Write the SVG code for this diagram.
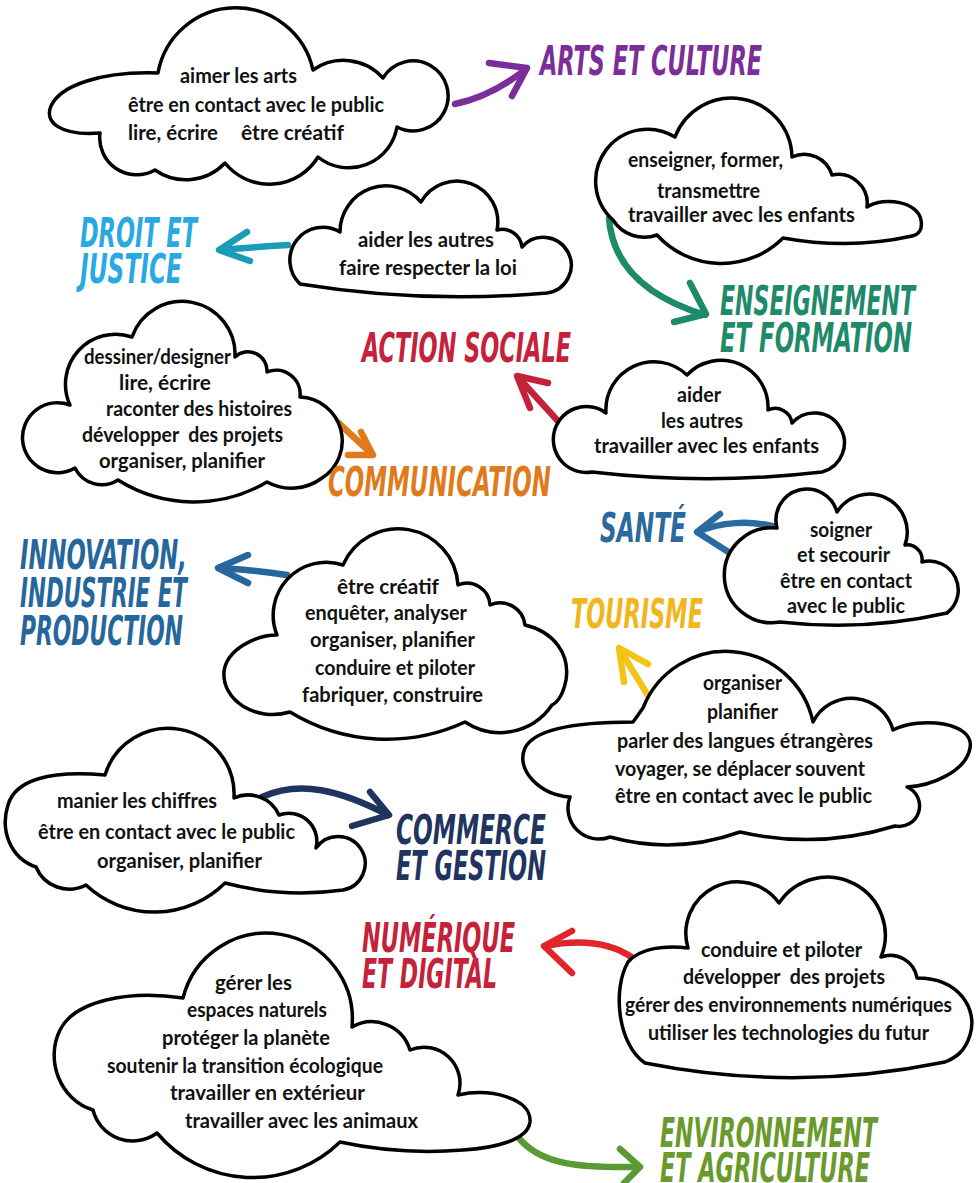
<svg xmlns="http://www.w3.org/2000/svg" width="977" height="1183" viewBox="0 0 977 1183">
<style>
.cloud{fill:#fff;stroke:#000;stroke-width:3.5;stroke-linejoin:round}
.t{font-family:Lato,"Noto Sans",sans-serif;font-weight:700;font-size:20px;fill:#111}
.h{font-family:"DejaVu Sans Condensed","DejaVu Sans",sans-serif;font-weight:700;font-style:italic;font-size:40px}
.a{fill:none;stroke-width:6.5;stroke-linecap:round;stroke-linejoin:round}
</style>
<rect width="977" height="1183" fill="#fff"/>
<g id="connectors">
<g stroke="#7B2D9A" class="a"><path d="M455,104 Q492,96 526,69"/><path d="M489,63 L527,68 L512,96"/></g>
<g stroke="#1A9CB8" class="a"><path d="M288,245 Q255,247 220,250"/><path d="M247,232 L219,250 L250,261"/></g>
<g stroke="#1F8A6A" class="a"><path d="M609,218 C612,260 640,295 705,315"/><path d="M690,283 L706,314 L674,322"/></g>
<g stroke="#C4213A" class="a"><path d="M557,420 L518,377"/><path d="M548,383 L517,376 L530,408"/></g>
<g stroke="#E07A1A" class="a"><path d="M333,418 L371,453"/><path d="M361,432 L373,455 L348,455"/></g>
<g stroke="#2A6A9F" class="a"><path d="M776,527 C750,520 720,522 698,532"/><path d="M720,514 L697,532 L730,553"/></g>
<g stroke="#25679C" class="a"><path d="M287,575 Q255,570 219,568"/><path d="M248,555 L218,568 L248,583"/></g>
<g stroke="#F2C318" class="a"><path d="M652,702 L620,650"/><path d="M648,664 L619,648 L624,682"/></g>
<g stroke="#1F3560" class="a"><path d="M262,797 C300,780 340,790 388,815"/><path d="M370,792 L389,815 L352,826"/></g>
<g stroke="#E0262C" class="a"><path d="M633,958 Q600,935 545,946"/><path d="M572,931 L544,946 L572,973"/></g>
<g stroke="#5A9A35" class="a"><path d="M518,1137 C540,1165 580,1168 638,1167"/><path d="M620,1149 L640,1167 L624,1183"/></g>
</g>

<g id="node-arts-cloud">
<path class="cloud" d="M100,133 C60,136 44,122 51,106 C60,86 100,71 158,73 A79,79 0 0 1 313,70 A53,53 0 0 1 383,78 A35,35 0 1 1 397,127 A49,49 0 0 1 318,157 A57,57 0 0 1 225,163 A54,54 0 0 1 155,170 A37,37 0 0 1 100,133 Z"/>
<text class="t" x="180" y="83" textLength="117" lengthAdjust="spacingAndGlyphs">aimer les arts</text>
<text class="t" x="128" y="112" textLength="256" lengthAdjust="spacingAndGlyphs">être en contact avec le public</text>
<text class="t" x="128" y="140" textLength="90" lengthAdjust="spacingAndGlyphs">lire, écrire</text>
<text class="t" x="241" y="140" textLength="103" lengthAdjust="spacingAndGlyphs">être créatif</text>
</g>

<g id="node-droit-cloud">
<path class="cloud" d="M300,284 A33,33 0 0 1 340,232 A46,46 0 0 1 421,202 A41,41 0 0 1 497,230 A20,20 0 0 1 522,247 A28,28 0 1 1 547,293 A1000,1000 0 0 1 300,284 Z"/>
<text class="t" x="358" y="247" textLength="136" lengthAdjust="spacingAndGlyphs">aider les autres</text>
<text class="t" x="339" y="275" textLength="178" lengthAdjust="spacingAndGlyphs">faire respecter la loi</text>
</g>

<g id="node-enseignement-cloud">
<path class="cloud" d="M613,220 A52,52 0 0 1 675,137 A60.5,60.5 0 0 1 792,157 A29,29 0 0 1 832,175 A29,29 0 0 1 867,207 C885,196 918,202 921,220 C923,230 918,235 912,236 Q850,250 783,238 A87,87 0 0 1 657,235 A37,37 0 0 1 613,220 Z"/>
<text class="t" x="628" y="167" textLength="155" lengthAdjust="spacingAndGlyphs">enseigner, former,</text>
<text class="t" x="657" y="198" textLength="103" lengthAdjust="spacingAndGlyphs">transmettre</text>
<text class="t" x="628" y="222" textLength="227" lengthAdjust="spacingAndGlyphs">travailler avec les enfants</text>
</g>

<g id="node-communication-cloud">
<path class="cloud" d="M70,405 A50,50 0 0 1 132,337 A53,53 0 0 1 235,357 A19,19 0 0 1 267,372 A24,24 0 0 1 300,397 A44,44 0 0 1 322,478 A51,51 0 0 1 267,482 A143,143 0 0 1 118,480 A30,30 0 0 1 75,468 A35,35 0 1 1 70,405 Z"/>
<text class="t" x="84" y="364" textLength="147" lengthAdjust="spacingAndGlyphs">dessiner/designer</text>
<text class="t" x="119" y="390" textLength="92" lengthAdjust="spacingAndGlyphs">lire, écrire</text>
<text class="t" x="106" y="416" textLength="186" lengthAdjust="spacingAndGlyphs">raconter des histoires</text>
<text class="t" x="82" y="442" textLength="201" lengthAdjust="spacingAndGlyphs" xml:space="preserve">développer  des projets</text>
<text class="t" x="99" y="468" textLength="166" lengthAdjust="spacingAndGlyphs">organiser, planifier</text>
</g>

<g id="node-social-cloud">
<path class="cloud" d="M592,472 A33,33 0 1 1 606,413 A48,48 0 0 1 687,375 A47,47 0 0 1 768,410 A17,17 0 0 1 792,423 A30,30 0 1 1 822,472 A1000,1000 0 0 1 592,472 Z"/>
<text class="t" x="677" y="402" textLength="44" lengthAdjust="spacingAndGlyphs">aider</text>
<text class="t" x="661" y="428" textLength="82" lengthAdjust="spacingAndGlyphs">les autres</text>
<text class="t" x="594" y="453" textLength="225" lengthAdjust="spacingAndGlyphs">travailler avec les enfants</text>
</g>

<g id="node-sante-cloud">
<path class="cloud" d="M780,622 A47.5,47.5 0 1 1 777,528 A31,31 0 0 1 837,512 A38,38 0 0 1 905,545 A15,15 0 0 1 922,562 A29,29 0 0 1 947,613 A500,500 0 0 1 780,622 Z"/>
<text class="t" x="810" y="537" textLength="62" lengthAdjust="spacingAndGlyphs">soigner</text>
<text class="t" x="797" y="562" textLength="93" lengthAdjust="spacingAndGlyphs">et secourir</text>
<text class="t" x="780" y="588" textLength="132" lengthAdjust="spacingAndGlyphs">être en contact</text>
<text class="t" x="787" y="613" textLength="118" lengthAdjust="spacingAndGlyphs">avec le public</text>
</g>

<g id="node-innovation-cloud">
<path class="cloud" d="M343,565 A60,60 0 0 1 458,585 A23,23 0 0 1 490,605 A25,25 0 0 1 525,625 C555,632 570,655 566,680 C563,695 558,702 552,705 A63,63 0 0 1 465,722 A186,186 0 0 1 290,712 C255,722 222,700 224,672 C226,650 255,635 277,635 A53,53 0 0 1 343,565 Z"/>
<text class="t" x="337" y="594" textLength="102" lengthAdjust="spacingAndGlyphs">être créatif</text>
<text class="t" x="305" y="620" textLength="162" lengthAdjust="spacingAndGlyphs">enquêter, analyser</text>
<text class="t" x="310" y="647" textLength="165" lengthAdjust="spacingAndGlyphs">organiser, planifier</text>
<text class="t" x="315" y="675" textLength="160" lengthAdjust="spacingAndGlyphs">conduire et piloter</text>
<text class="t" x="302" y="702" textLength="181" lengthAdjust="spacingAndGlyphs">fabriquer, construire</text>
</g>

<g id="node-tourisme-cloud">
<path class="cloud" d="M570,797 C540,795 515,770 525,748 C535,728 580,722 633,722 L643,708 A89,89 0 0 1 813,722 A43,43 0 0 1 893,730 C920,716 975,722 970,748 C966,772 930,786 907,787 A20.5,20.5 0 0 1 895,826 A300,300 0 0 1 740,832 A216,216 0 0 1 610,837 A31,31 0 0 1 570,797 Z"/>
<text class="t" x="703" y="690" textLength="79" lengthAdjust="spacingAndGlyphs">organiser</text>
<text class="t" x="707" y="719" textLength="71" lengthAdjust="spacingAndGlyphs">planifier</text>
<text class="t" x="617" y="748" textLength="256" lengthAdjust="spacingAndGlyphs">parler des langues étrangères</text>
<text class="t" x="615" y="776" textLength="250" lengthAdjust="spacingAndGlyphs">voyager, se déplacer souvent</text>
<text class="t" x="615" y="803" textLength="257" lengthAdjust="spacingAndGlyphs">être en contact avec le public</text>
</g>

<g id="node-commerce-cloud">
<path class="cloud" d="M36,867 C10,858 0,830 8,805 C15,780 50,770 105,775 A66,66 0 0 1 234,798 A34,34 0 0 1 279,815 A28,28 0 0 1 316,848 A27,27 0 1 1 343,890 A300,300 0 0 1 225,883 A100,100 0 0 1 86,885 A36,36 0 0 1 36,867 Z"/>
<text class="t" x="57" y="808" textLength="160" lengthAdjust="spacingAndGlyphs">manier les chiffres</text>
<text class="t" x="38" y="839" textLength="257" lengthAdjust="spacingAndGlyphs">être en contact avec le public</text>
<text class="t" x="97" y="868" textLength="165" lengthAdjust="spacingAndGlyphs">organiser, planifier</text>
</g>

<g id="node-numerique-cloud">
<path class="cloud" d="M645,1063 C618,1045 612,990 628,962 C640,948 665,945 688,948 A51.5,51.5 0 0 1 779,903 A58,58 0 0 1 881,957 A27,27 0 0 1 917,978 C960,978 978,1010 970,1035 C965,1052 955,1058 945,1062 A757,757 0 0 1 645,1063 Z"/>
<text class="t" x="701" y="957" textLength="161" lengthAdjust="spacingAndGlyphs">conduire et piloter</text>
<text class="t" x="683" y="984" textLength="202" lengthAdjust="spacingAndGlyphs" xml:space="preserve">développer  des projets</text>
<text class="t" x="625" y="1012" textLength="327" lengthAdjust="spacingAndGlyphs">gérer des environnements numériques</text>
<text class="t" x="648" y="1040" textLength="281" lengthAdjust="spacingAndGlyphs">utiliser les technologies du futur</text>
</g>

<g id="node-environnement-cloud">
<path class="cloud" d="M183,998 A86,86 0 0 1 352,1027 A40,40 0 0 1 410,1050 A36,36 0 0 1 458,1095 C490,1088 532,1098 530,1122 C528,1140 495,1148 463,1150 Q400,1155 340,1142 A125,125 0 0 1 157,1133 A41,41 0 0 1 93,1110 C60,1100 45,1060 60,1030 C75,1000 130,990 183,998 Z"/>
<text class="t" x="215" y="990" textLength="77" lengthAdjust="spacingAndGlyphs">gérer les</text>
<text class="t" x="187" y="1017" textLength="140" lengthAdjust="spacingAndGlyphs">espaces naturels</text>
<text class="t" x="162" y="1045" textLength="168" lengthAdjust="spacingAndGlyphs">protéger la planète</text>
<text class="t" x="107" y="1073" textLength="276" lengthAdjust="spacingAndGlyphs">soutenir la transition écologique</text>
<text class="t" x="170" y="1100" textLength="195" lengthAdjust="spacingAndGlyphs">travailler en extérieur</text>
<text class="t" x="185" y="1128" textLength="233" lengthAdjust="spacingAndGlyphs">travailler avec les animaux</text>
</g>

<g id="titles" transform="scale(0.62,1)">
<g id="title-arts"><text class="h" fill="#7B2D9A" x="870.97" y="75" textLength="358.06" lengthAdjust="spacingAndGlyphs">ARTS ET CULTURE</text></g>
<g id="title-droit" fill="#29A9E1"><text class="h" x="129.03" y="247" textLength="188.71" lengthAdjust="spacingAndGlyphs">DROIT ET</text><text class="h" x="129.03" y="283" textLength="164.52" lengthAdjust="spacingAndGlyphs">JUSTICE</text></g>
<g id="title-enseignement" fill="#1F8A6A"><text class="h" x="1161.29" y="315" textLength="314.52" lengthAdjust="spacingAndGlyphs">ENSEIGNEMENT</text><text class="h" x="1161.29" y="352" textLength="309.68" lengthAdjust="spacingAndGlyphs">ET FORMATION</text></g>
<g id="title-social"><text class="h" fill="#C4213A" x="583.87" y="362" textLength="337.10" lengthAdjust="spacingAndGlyphs">ACTION SOCIALE</text></g>
<g id="title-communication"><text class="h" fill="#E07A1A" x="529.03" y="496" textLength="359.68" lengthAdjust="spacingAndGlyphs">COMMUNICATION</text></g>
<g id="title-sante"><text class="h" fill="#2A6A9F" x="967.74" y="542" textLength="138.71" lengthAdjust="spacingAndGlyphs">SANTÉ</text></g>
<g id="title-innovation" fill="#25679C"><text class="h" x="32.26" y="569" textLength="269.35" lengthAdjust="spacingAndGlyphs">INNOVATION,</text><text class="h" x="32.26" y="607" textLength="269.35" lengthAdjust="spacingAndGlyphs">INDUSTRIE ET</text><text class="h" x="32.26" y="645" textLength="262.90" lengthAdjust="spacingAndGlyphs">PRODUCTION</text></g>
<g id="title-tourisme"><text class="h" fill="#F2B51B" x="920.97" y="628" textLength="212.90" lengthAdjust="spacingAndGlyphs">TOURISME</text></g>
<g id="title-commerce" fill="#1F3560"><text class="h" x="638.71" y="844" textLength="241.94" lengthAdjust="spacingAndGlyphs">COMMERCE</text><text class="h" x="638.71" y="880" textLength="241.94" lengthAdjust="spacingAndGlyphs">ET GESTION</text></g>
<g id="title-numerique" fill="#C4213A"><text class="h" x="583.87" y="952" textLength="246.77" lengthAdjust="spacingAndGlyphs">NUMÉRIQUE</text><text class="h" x="583.87" y="988" textLength="217.74" lengthAdjust="spacingAndGlyphs">ET DIGITAL</text></g>
<g id="title-environnement" fill="#6A9A2C"><text class="h" x="1064.52" y="1147" textLength="350" lengthAdjust="spacingAndGlyphs">ENVIRONNEMENT</text><text class="h" x="1064.52" y="1182" textLength="338.71" lengthAdjust="spacingAndGlyphs">ET AGRICULTURE</text></g>
</g>
</svg>
